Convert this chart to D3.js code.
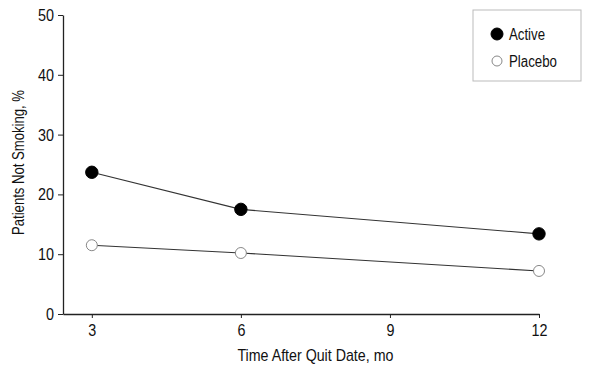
<!DOCTYPE html>
<html>
<head>
<meta charset="utf-8">
<script src="https://cdn.jsdelivr.net/npm/d3@7"></script>
<style>
  body { margin: 0; background: #fff; }
  svg text { font-family: "Liberation Sans", Arial, sans-serif; fill: #111; }
</style>
</head>
<body>
<div id="container"></div>
<script>
const width = 590;
const height = 373;
const marginLeft = 63;
const marginRight = 51;
const marginTop = 15;
const marginBottom = 59;

// data
const months = [3, 6, 12];
const active = [23.7, 17.5, 13.4];
const placebo = [11.5, 10.2, 7.2];
const xTicks = [3, 6, 9, 12];
const yTicks = [0, 10, 20, 30, 40, 50];

const svg = d3.select("div#container").append("svg")
  .attr("width", width)
  .attr("height", height);

const x = d3.scaleLinear()
  .domain([2.42, 12])
  .range([marginLeft, width - marginRight]);

const y = d3.scaleLinear()
  .domain([0, 50])
  .range([height - marginBottom, marginTop]);

// the reference uses a condensed face, squeeze the glyphs a bit
function condense(sel, perChar) {
  sel.attr("font-size", 17)
    .attr("lengthAdjust", "spacingAndGlyphs")
    .attr("textLength", function() { return this.textContent.length * perChar; });
}

svg.append("g")
  .attr("transform", `translate(0,${height - marginBottom})`)
  .call(d3.axisBottom(x).tickValues(xTicks).tickSize(4).tickSizeOuter(0).tickPadding(6))
  .call(g => g.select(".domain").attr("stroke", "#222").attr("stroke-width", 1.3))
  .call(g => g.selectAll(".tick line").attr("stroke", "#222"))
  .call(g => g.selectAll("text").attr("fill", "#111").call(condense, 8));

svg.append("g")
  .attr("transform", `translate(${marginLeft},0)`)
  .call(d3.axisLeft(y).tickValues(yTicks).tickSize(5).tickSizeOuter(0).tickPadding(4))
  .call(g => g.select(".domain").attr("stroke", "#222").attr("stroke-width", 1.3))
  .call(g => g.selectAll(".tick line").attr("stroke", "#222"))
  .call(g => g.selectAll("text").attr("fill", "#111").call(condense, 8));

// axis titles
svg.append("text")
  .attr("x", x(7.5))
  .attr("y", 361)
  .attr("text-anchor", "middle")
  .attr("font-size", 17)
  .attr("lengthAdjust", "spacingAndGlyphs")
  .attr("textLength", 156)
  .text("Time After Quit Date, mo");

svg.append("text")
  .attr("transform", `translate(24,${y(25) - 2}) rotate(-90)`)
  .attr("text-anchor", "middle")
  .attr("font-size", 17)
  .attr("lengthAdjust", "spacingAndGlyphs")
  .attr("textLength", 145)
  .text("Patients Not Smoking, %");

const line = d3.line()
  .x((d, i) => x(months[i]))
  .y(d => y(d));

const series = [
  { key: "Active", values: active, fill: "#000", stroke: "#000", r: 6.2, len: 36 },
  { key: "Placebo", values: placebo, fill: "#fff", stroke: "#888", r: 5.5, len: 48 }
];

series.forEach(s => {
  svg.append("path")
    .datum(s.values)
    .attr("fill", "none")
    .attr("stroke", "#333")
    .attr("stroke-width", 1.1)
    .attr("d", line);

  svg.append("g")
    .selectAll("circle")
    .data(s.values)
    .join("circle")
    .attr("cx", (d, i) => x(months[i]))
    .attr("cy", d => y(d))
    .attr("r", s.r)
    .attr("fill", s.fill)
    .attr("stroke", s.stroke)
    .attr("stroke-width", 1);
});

// legend
const legend = svg.append("g").attr("transform", "translate(473,10)");
legend.append("rect")
  .attr("width", 108)
  .attr("height", 71)
  .attr("fill", "#fff")
  .attr("stroke", "#bbb")
  .attr("stroke-width", 1);

series.forEach((s, i) => {
  const row = legend.append("g").attr("transform", `translate(24,${24 + i * 27})`);
  row.append("circle")
    .attr("r", s.key === "Active" ? 6 : 5)
    .attr("fill", s.fill)
    .attr("stroke", s.stroke)
    .attr("stroke-width", 1);
  row.append("text")
    .attr("x", 12)
    .attr("y", 6)
    .attr("font-size", 16)
    .attr("lengthAdjust", "spacingAndGlyphs")
    .attr("textLength", s.len)
    .text(s.key);
});
</script>
</body>
</html>
